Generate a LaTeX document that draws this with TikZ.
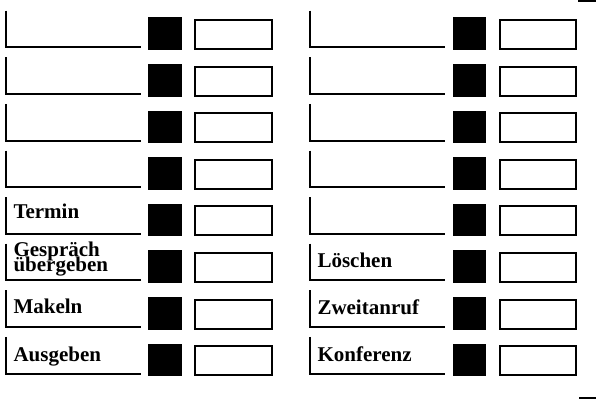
\documentclass[tikz,border=0pt]{standalone}
\usepackage{fontspec}
\setmainfont{Liberation Serif}
\begin{document}
\begin{tikzpicture}[x=1pt,y=-1pt,
  lbl/.style={anchor=base west,inner sep=0pt,font=\bfseries\fontsize{21}{14.3}\selectfont},
  key/.style={fill=black,minimum width=33.4pt,minimum height=32.7pt,inner sep=0pt},
  field/.style={draw,line width=2pt,minimum width=#1,minimum height=29pt,inner sep=0pt},
  bracket/.style={line width=2pt,line cap=butt},
  cornermark/.style={line width=2pt}]
\useasboundingbox (0,0) rectangle (596,404);
\foreach \i in {0,...,7}{
  \pgfmathsetmacro{\yo}{46.6*\i}
  % left column
  \draw[bracket] (6,10.7+\yo) |- (141.3,47.3+\yo);
  \node[key] (kl\i) at (165,33.65+\yo) {};
  \node[field=76.4pt] (fl\i) at (233.5,34.5+\yo) {};
  % right column
  \draw[bracket] (310,10.7+\yo) |- (445.3,47.3+\yo);
  \node[key,minimum width=32.4pt] (kr\i) at (469.5,33.65+\yo) {};
  \node[field=75.4pt] (fr\i) at (538,34.5+\yo) {};
}
\node[lbl] (termin) at (13.3,218) {Termin};
\node[lbl] (gespraech) at (13.3,256.7) {Gespräch};
\node[lbl] (uebergeben) at (13.3,271) {übergeben};
\node[lbl] (makeln) at (13.3,313.5) {Makeln};
\node[lbl] (ausgeben) at (13.3,361.5) {Ausgeben};
\node[lbl] (loeschen) at (317.3,267.5) {Löschen};
\node[lbl] (zweitanruf) at (317.3,314) {Zweitanruf};
\node[lbl] (konferenz) at (317.3,361.5) {Konferenz};
\coordinate (ta) at (578.3,1.5);
\coordinate (tb) at (596,1.5);
\coordinate (ba) at (579.3,397.7);
\coordinate (bb) at (596,397.7);
\draw[cornermark] (ta) -- (tb);
\draw[cornermark] (ba) -- (bb);
\end{tikzpicture}
\end{document}
